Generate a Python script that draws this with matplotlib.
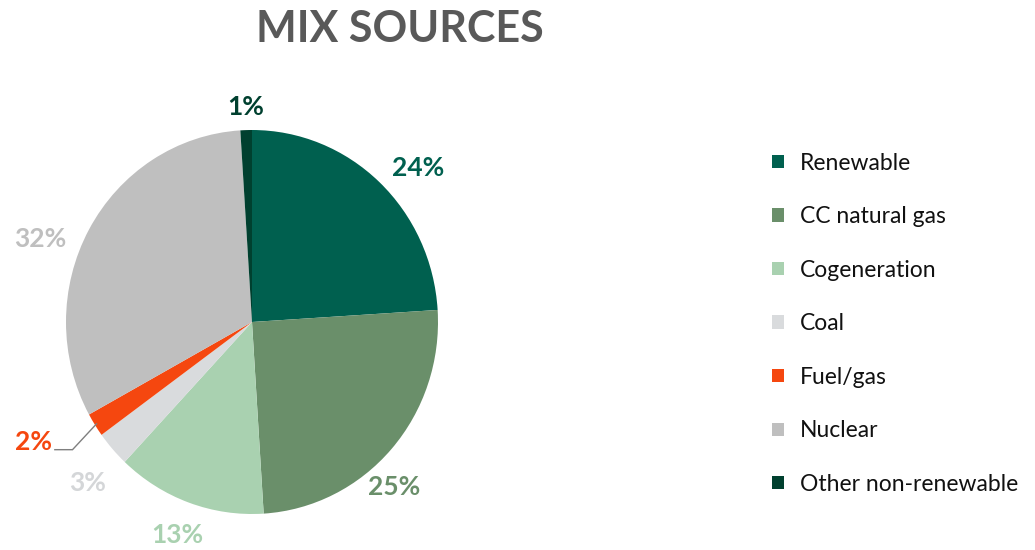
import numpy as np
import matplotlib
matplotlib.use("Agg")
from matplotlib import pyplot as plt
import matplotlib.patches as mpatches

plt.rcParams['font.family'] = ['Lato', 'DejaVu Sans']

# -- data ---------------------------------------------------------------
sources = ['Renewable', 'CC natural gas', 'Cogeneration', 'Coal',
           'Fuel/gas', 'Nuclear', 'Other non-renewable']
shares = [24, 25, 13, 3, 2, 32, 1]
colors = ['#00604F', '#6A8F6A', '#A9D1B0', '#D9DBDD',
          '#F5470F', '#BFBFBF', '#00402F']
label_colors = ['#00604F', '#6A8F6A', '#A9D1B0', '#D4D6D8',
                '#F5470F', '#BFBFBF', '#00402F']
# label placement: distance from centre (in radii) and angular nudge (deg)
label_dist = [1.20, 1.15, 1.18, 1.22, 1.30, 1.22, 1.12]
label_nudge = [-5, -7, 0, 2, 0, 8, 0]

W, H = 1035, 550
fig = plt.figure(figsize=(W / 100, H / 100), dpi=100, facecolor='white')

# pie axes placed in pixel terms (center ~ (252, 322) from top)
cx, cy, rx, ry = 252, 322, 186, 192
ax = fig.add_axes([(cx - rx) / W, (H - cy - ry) / H, 2 * rx / W, 2 * ry / H])

wedges, _ = ax.pie(shares, colors=colors, startangle=90, counterclock=False,
                   radius=1, wedgeprops=dict(linewidth=0))
ax.set_aspect('auto')
ax.set_xlim(-1, 1)
ax.set_ylim(-1, 1)
ax.axis('off')

for i, w in enumerate(wedges):
    mid = (w.theta1 + w.theta2) / 2
    txt = f"{shares[i]}%"
    if sources[i] == 'Fuel/gas':
        # leader line for the small slice
        ang = np.deg2rad(mid)
        ex, ey = 0.99 * np.cos(ang), 0.99 * np.sin(ang)
        ly = -0.665
        ax.plot([-1.06, -0.965, ex], [ly, ly, ey], color='#7F7F7F', lw=1.0,
                clip_on=False, solid_joinstyle='miter')
        ax.text(-1.075, ly, txt, ha='right', va='baseline', fontsize=19,
                fontweight='bold', color=label_colors[i], clip_on=False)
        continue
    ang = np.deg2rad(mid + label_nudge[i])
    d = label_dist[i]
    ax.text(d * np.cos(ang), d * np.sin(ang), txt, ha='center', va='center',
            fontsize=19, fontweight='bold', color=label_colors[i], clip_on=False)

# -- title --------------------------------------------------------------
fig.text(400 / W, 1 - 29 / H, 'MIX SOURCES', ha='center', va='center',
         fontsize=31, fontweight='bold', color='#595959')

# -- legend -------------------------------------------------------------
handles = [mpatches.Patch(facecolor=c, edgecolor='none', label=s)
           for s, c in zip(sources, colors)]
fig.legend(handles=handles, loc='upper left',
           bbox_to_anchor=(751 / W, 1 - 132 / H), frameon=False,
           fontsize=16.5, labelspacing=1.42, handlelength=0.52,
           handleheight=0.52, handletextpad=0.7, labelcolor='#111111')

fig.savefig('out.png', dpi=100, facecolor='white')
